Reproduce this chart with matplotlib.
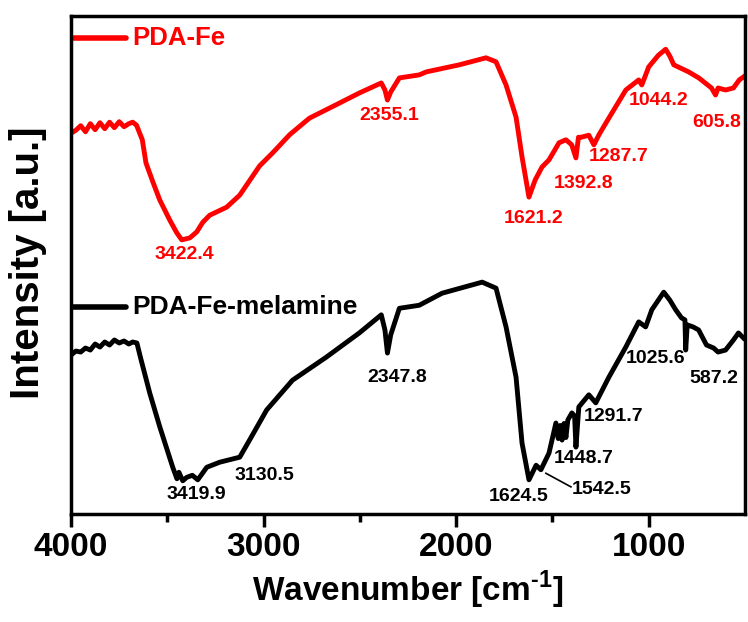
import numpy as np
import matplotlib
matplotlib.use('Agg')
import matplotlib.pyplot as plt

plt.rcParams['font.family'] = ['Liberation Sans', 'DejaVu Sans']
plt.rcParams['font.weight'] = 'bold'
plt.rcParams['mathtext.fontset'] = 'custom'
plt.rcParams['mathtext.bf'] = 'Liberation Sans:bold'
plt.rcParams['mathtext.rm'] = 'Liberation Sans:bold'

# PDA-Fe spectrum (wavenumber, intensity a.u.)
wnFe = [4000, 3975, 3950, 3925, 3900, 3875, 3850, 3825, 3800, 3775, 3750, 3725, 3700, 3680, 3660,
        3630, 3611, 3575, 3539, 3487, 3451, 3425, 3383, 3347, 3316, 3280, 3192, 3124, 3021, 2953,
        2865, 2762, 2606, 2503, 2389, 2370, 2357, 2340, 2295, 2192, 2155, 1984, 1845, 1793, 1741,
        1689, 1658, 1622, 1590, 1554, 1518, 1466, 1430, 1400, 1378, 1365, 1352, 1311, 1285, 1260,
        1223, 1119, 1052, 1036, 1000, 950, 912, 890, 870, 793, 740, 674, 653, 640, 601, 560, 530, 508]
intFe = [76.7, 77.3, 78.2, 77.0, 78.6, 77.4, 78.8, 77.6, 78.9, 77.8, 79.0, 78.0, 78.6, 78.9, 78.3,
         75.4, 70.8, 67.0, 63.4, 59.4, 56.9, 55.5, 55.9, 57.1, 59.0, 60.4, 62.0, 64.4, 70.2, 72.8,
         76.4, 79.7, 82.7, 84.7, 86.7, 85.3, 83.3, 84.9, 87.7, 88.3, 88.9, 90.3, 91.7, 90.9, 86.3,
         79.9, 72.0, 64.0, 67.4, 70.0, 71.4, 74.8, 75.4, 74.4, 71.8, 75.9, 75.9, 76.3, 74.4, 76.3,
         78.7, 85.3, 87.3, 86.3, 89.9, 92.2, 93.4, 92.0, 90.3, 88.9, 87.7, 85.7, 84.3, 85.7, 85.3,
         85.7, 87.3, 87.9]

# PDA-Fe-melamine spectrum
wnMel = [4000, 3975, 3950, 3925, 3900, 3875, 3850, 3825, 3800, 3775, 3750, 3725, 3700, 3680, 3658,
         3640, 3591, 3539, 3472, 3450, 3440, 3420, 3399, 3370, 3342, 3295, 3228, 3124, 3073, 2984,
         2850, 2674, 2503, 2389, 2370, 2357, 2340, 2295, 2192, 2073, 1865, 1793, 1741, 1689, 1658,
         1622, 1585, 1560, 1518, 1482, 1470, 1460, 1450, 1440, 1430, 1420, 1399, 1385, 1378, 1363,
         1311, 1275, 1207, 1119, 1052, 1016, 984, 922, 890, 860, 830, 812, 808, 800, 770, 741,
         700, 663, 640, 601, 560, 534, 508]
intMel = [32.6, 33.4, 33.2, 34.0, 33.6, 34.8, 34.2, 35.2, 34.6, 35.6, 35.0, 35.4, 34.8, 35.2, 35.0,
          32.2, 25.0, 18.3, 10.3, 8.0, 9.3, 7.6, 8.3, 8.7, 7.8, 10.3, 11.3, 12.3, 15.7, 21.7,
          27.6, 32.2, 37.0, 40.6, 37.6, 33.0, 36.6, 41.9, 42.5, 44.9, 47.1, 45.9, 38.2, 28.2, 15.1,
          7.8, 10.7, 9.8, 13.1, 19.1, 16.0, 18.6, 15.7, 19.0, 16.2, 19.7, 21.1, 20.5, 14.3, 22.3,
          24.7, 23.1, 28.2, 34.2, 39.2, 38.2, 41.6, 45.1, 43.5, 41.6, 40.0, 39.6, 33.6, 38.6, 38.2, 37.6,
          34.6, 34.0, 33.2, 33.6, 35.6, 37.0, 36.0]

# peak labels (text, wavenumber, intensity)
peaksFe = [('3422.4', 3410, 52.5), ('2355.1', 2347, 80.3), ('1621.2', 1596, 59.8),
           ('1392.8', 1337, 66.8), ('1287.7', 1155, 72.0), ('1044.2', 948, 83.3),
           ('605.8', 648, 78.9)]
peaksMel = [('3419.9', 3347, 4.8), ('3130.5', 2995, 8.7), ('2347.8', 2306, 28.2),
            ('1624.5', 1674, 4.4), ('1542.5', 1244, 5.8), ('1448.7', 1337, 12.1),
            ('1291.7', 1181, 20.3), ('1025.6', 964, 32.0), ('587.2', 663, 28.0)]

red = '#ff0000'

fig = plt.figure(figsize=(7.48, 6.22), dpi=100)
ax = fig.add_axes([0.095, 0.1736, 0.901, 0.8006])

ax.plot(wnFe, intFe, color=red, lw=3.5, solid_joinstyle='round')
ax.plot(wnMel, intMel, color='black', lw=3.5, solid_joinstyle='round')

# legend-like labels
ax.plot([3995, 3715], [95.6, 95.6], color=red, lw=4, solid_capstyle='round')
ax.text(3680, 95.6, 'PDA-Fe', color=red, fontsize=18.5, fontweight='bold', va='center', ha='left')
ax.plot([3995, 3715], [42.1, 42.1], color='black', lw=4, solid_capstyle='round')
ax.text(3680, 42.1, 'PDA-Fe-melamine', color='black', fontsize=19, fontweight='bold',
        va='center', ha='left')

for t, x, y in peaksFe:
    ax.text(x, y, t, color=red, fontsize=14, fontweight='bold', ha='center', va='center')
for t, x, y in peaksMel:
    ax.text(x, y, t, color='black', fontsize=14, fontweight='bold', ha='center', va='center')
ax.plot([1534, 1404], [9.1, 6.4], color='black', lw=1.2)

ax.set_xlim(4000, 500)
ax.set_ylim(1, 100)
ax.set_xticks([4000, 3000, 2000, 1000])
ax.set_xticks([3500, 2500, 1500], minor=True)
ax.set_yticks([])
ax.tick_params(axis='x', which='major', direction='out', length=9, width=2.5, pad=4, labelsize=24)
ax.tick_params(axis='x', which='minor', direction='out', length=6, width=2.5)
for lab in ax.get_xticklabels():
    lab.set_fontweight('bold')
for s in ax.spines.values():
    s.set_linewidth(2.5)

ax.set_xlabel('Wavenumber [cm$^{\\text{-}\\mathbf{1}}$]', fontsize=24, fontweight='bold', labelpad=4)
ax.set_ylabel('Intensity [a.u.]', fontsize=29, fontweight='bold')
ax.yaxis.set_label_coords(-0.035, 0.504)

fig.savefig('out.png', dpi=100)
